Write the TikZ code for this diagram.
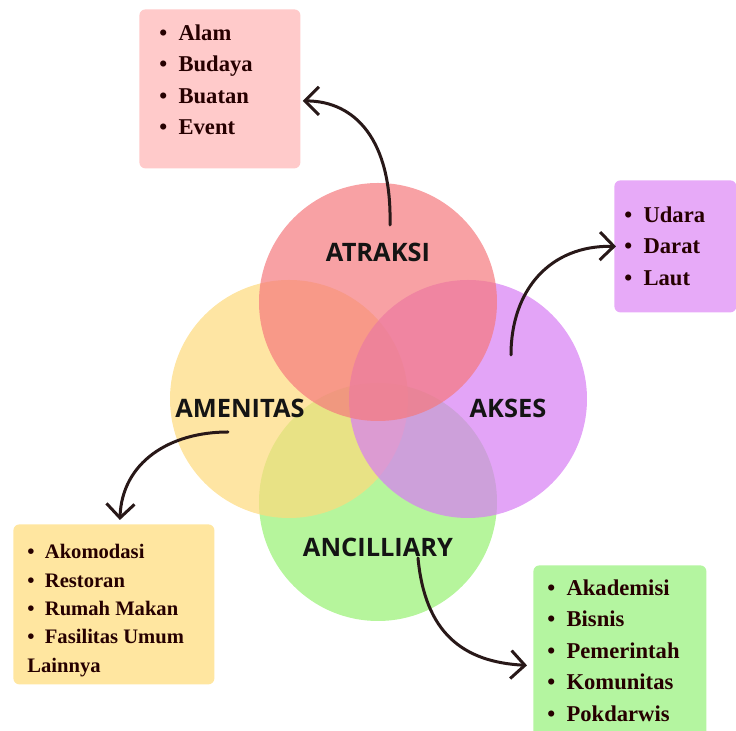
\documentclass[tikz,border=0pt]{standalone}
\usepackage{fontspec}
\setmainfont{Liberation Serif}
\newfontfamily\labelfont{Open Sans}
\usetikzlibrary{arrows.meta,positioning}
\definecolor{atrpink}{RGB}{245,121,125}
\definecolor{ameyellow}{RGB}{254,218,124}
\definecolor{aksviolet}{RGB}{215,125,244}
\definecolor{ancgreen}{RGB}{151,241,114}
\definecolor{atrbg}{RGB}{255,202,202}
\definecolor{amebg}{RGB}{255,230,160}
\definecolor{aksbg}{RGB}{231,170,248}
\definecolor{ancbg}{RGB}{180,245,160}
\definecolor{arrowbrown}{RGB}{40,24,24}
\newcommand{\itembul}{\textbullet\hspace{0.5em}}

\begin{document}
\begin{tikzpicture}[x=0.5pt, y=-0.5pt,
    ring/.style={circle, minimum size=119pt, inner sep=0pt, fill opacity=0.7},
    title/.style={font=\labelfont\bfseries\fontsize{12.7}{14}\selectfont, text=black!92},
    listbox/.style={rounded corners=3pt, inner sep=0pt, anchor=north west},
    items/.style={font=\bfseries\fontsize{11.3}{15.8}\selectfont, align=left,
        anchor=north west, inner sep=0pt, text=black!85!red},
    curvearrow/.style={-{Straight Barb[length=7pt,width=14pt]}, line width=1.5pt,
        draw=arrowbrown, line cap=round}
]
\useasboundingbox (0,0) rectangle (736,731);

% the four circles
\foreach \n/\x/\y/\c in {anc/378/502/ancgreen, ame/289/399/ameyellow,
    aks/468/399/aksviolet, atr/378/302/atrpink}
    \node[ring, fill=\c] (\n) at (\x,\y) {};

\node[title] (atrlabel) at (378,252) {ATRAKSI};
\node[title] (amelabel) at (240,408) {AMENITAS};
\node[title] (akslabel) at (508,408) {AKSES};
\node[title] (anclabel) at (378,547) {ANCILLIARY};

% list boxes
\node[listbox, fill=atrbg, minimum width=80.5pt, minimum height=79.5pt] (atrbox) at (139,9) {};
\node[listbox, fill=aksbg, minimum width=61pt, minimum height=66pt] (aksbox) at (614,180) {};
\node[listbox, fill=amebg, minimum width=100.5pt, minimum height=80pt] (amebox) at (13,524) {};
\node[listbox, fill=ancbg, minimum width=86.5pt, minimum height=90pt] (ancbox) at (533,565) {};

\node[items] (atrlist) at (159,24) {\itembul Alam\\\itembul Budaya\\\itembul Buatan\\\itembul Event};
\node[items] (akslist) at (624,206) {\itembul Udara\\\itembul Darat\\\itembul Laut};
\node[items, font=\bfseries\fontsize{10.3}{14.2}\selectfont] (amelist) at (27,544)
    {\itembul Akomodasi\\\itembul Restoran\\\itembul Rumah Makan\\\itembul Fasilitas Umum\\Lainnya};
\node[items] (anclist) at (547,579) {\itembul Akademisi\\\itembul Bisnis\\\itembul Pemerintah\\\itembul Komunitas\\\itembul Pokdarwis};

% curved arrows
\coordinate (atrstart) at (390,225);
\coordinate (aksstart) at (511,355);
\coordinate (amestart) at (228,432);
\coordinate (ancstart) at (418,558);

\draw[curvearrow] (atrstart) .. controls (392,140) and (355,101) .. ([xshift=1pt,yshift=-6pt]atrbox.east);
\draw[curvearrow] (aksstart) .. controls (511,290) and (550,245) .. ([xshift=1pt]aksbox.west);
\draw[curvearrow] (amestart) .. controls (170,432) and (122,462) .. ([xshift=3pt,yshift=2pt]amebox.north);
\draw[curvearrow] (ancstart) .. controls (425,632) and (462,662) .. ([xshift=-3pt,yshift=-5pt]ancbox.west);

\end{tikzpicture}
\end{document}
